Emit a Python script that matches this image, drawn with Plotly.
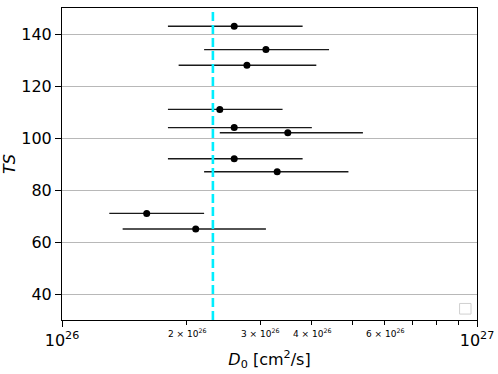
"""Diffusion coefficient D0 per TS with horizontal error bars."""

import math

import plotly.graph_objects as go

# values
ts_values = [143, 134, 128, 111, 104, 102, 92, 87, 71, 65]
d0_values = [2.60e26, 3.10e26, 2.79e26, 2.40e26, 2.60e26, 3.50e26, 2.60e26, 3.30e26, 1.60e26, 2.10e26]
d0_low = [1.80e26, 2.20e26, 1.91e26, 1.80e26, 1.80e26, 2.40e26, 1.80e26, 2.20e26, 1.30e26, 1.40e26]
d0_high = [3.80e26, 4.40e26, 4.10e26, 3.40e26, 4.00e26, 5.31e26, 3.80e26, 4.90e26, 2.20e26, 3.10e26]
d0_reference = 2.31e26

x_major_values = [1e26, 1e27]
x_major_labels = ["10<sup>26</sup>", "10<sup>27</sup>"]
x_minor_values = [2e26, 3e26, 4e26, 5e26, 6e26, 7e26, 8e26, 9e26]
x_minor_label_values = [2e26, 3e26, 4e26, 6e26]
x_minor_labels = ["2 × 10<sup>26</sup>", "3 × 10<sup>26</sup>", "4 × 10<sup>26</sup>", "6 × 10<sup>26</sup>"]
y_tick_values = [40, 60, 80, 100, 120, 140]

err_plus = [hi - v for hi, v in zip(d0_high, d0_values)]
err_minus = [v - lo for lo, v in zip(d0_low, d0_values)]

font = "DejaVu Sans, sans-serif"

fig = go.Figure()

fig.add_trace(
    go.Scatter(
        x=d0_values,
        y=ts_values,
        mode="markers",
        marker={"color": "black", "size": 7},
        error_x={
            "type": "data",
            "symmetric": False,
            "array": err_plus,
            "arrayminus": err_minus,
            "color": "#1a1a1a",
            "thickness": 1.4,
            "width": 0,
        },
        showlegend=False,
    )
)

fig.add_vline(
    x=d0_reference,
    line={"color": "#00eeff", "width": 2.6, "dash": "9px,4px"},
)

# the empty matplotlib legend box, bottom right
fig.add_shape(
    type="rect",
    xref="paper",
    yref="paper",
    x0=0.958,
    x1=0.9856,
    y0=0.019,
    y1=0.053,
    line={"color": "#d0d0d0", "width": 1},
    fillcolor="white",
)

# small minor-tick labels, as matplotlib draws them
for value, label in zip(x_minor_label_values, x_minor_labels):
    fig.add_annotation(
        x=math.log10(value),
        xref="x",
        y=0,
        yref="paper",
        yanchor="top",
        yshift=-5,
        text=label,
        showarrow=False,
        font={"family": font, "size": 9, "color": "black"},
    )

fig.update_layout(
    width=498,
    height=374,
    margin={"l": 61.5, "r": 21.3, "t": 8, "b": 53.7},
    paper_bgcolor="white",
    plot_bgcolor="white",
    font={"family": font, "color": "black", "size": 16},
    xaxis={
        "type": "log",
        "range": [26, 27],
        "automargin": False,
        "tickmode": "array",
        "tickvals": x_major_values,
        "ticktext": x_major_labels,
        "ticks": "outside",
        "ticklen": 6,
        "tickwidth": 1,
        "tickcolor": "black",
        "tickfont": {"size": 16},
        "minor": {
            "tickmode": "array",
            "tickvals": x_minor_values,
            "ticks": "outside",
            "ticklen": 4,
            "tickwidth": 1,
            "tickcolor": "black",
            "showgrid": False,
        },
        "showgrid": False,
        "zeroline": False,
        "showline": True,
        "linecolor": "black",
        "linewidth": 1,
        "mirror": True,
        "title": {
            "text": "<i>D</i><sub>0</sub> [cm<sup>2</sup>/s]",
            "font": {"size": 16},
            "standoff": 4,
        },
    },
    yaxis={
        "range": [30, 150],
        "automargin": False,
        "tickmode": "array",
        "tickvals": y_tick_values,
        "ticks": "outside",
        "ticklen": 6,
        "tickwidth": 1,
        "tickcolor": "black",
        "tickfont": {"size": 16},
        "showgrid": True,
        "gridcolor": "#b8b8b8",
        "gridwidth": 1,
        "zeroline": False,
        "showline": True,
        "linecolor": "black",
        "linewidth": 1,
        "mirror": True,
        "title": {"text": "<i>TS</i>", "font": {"size": 16}, "standoff": 8},
    },
)

fig.write_html(
    "out.html",
    config={"displayModeBar": False},
    post_script="document.body.style.margin = '0'; document.body.style.overflow = 'hidden';",
)
